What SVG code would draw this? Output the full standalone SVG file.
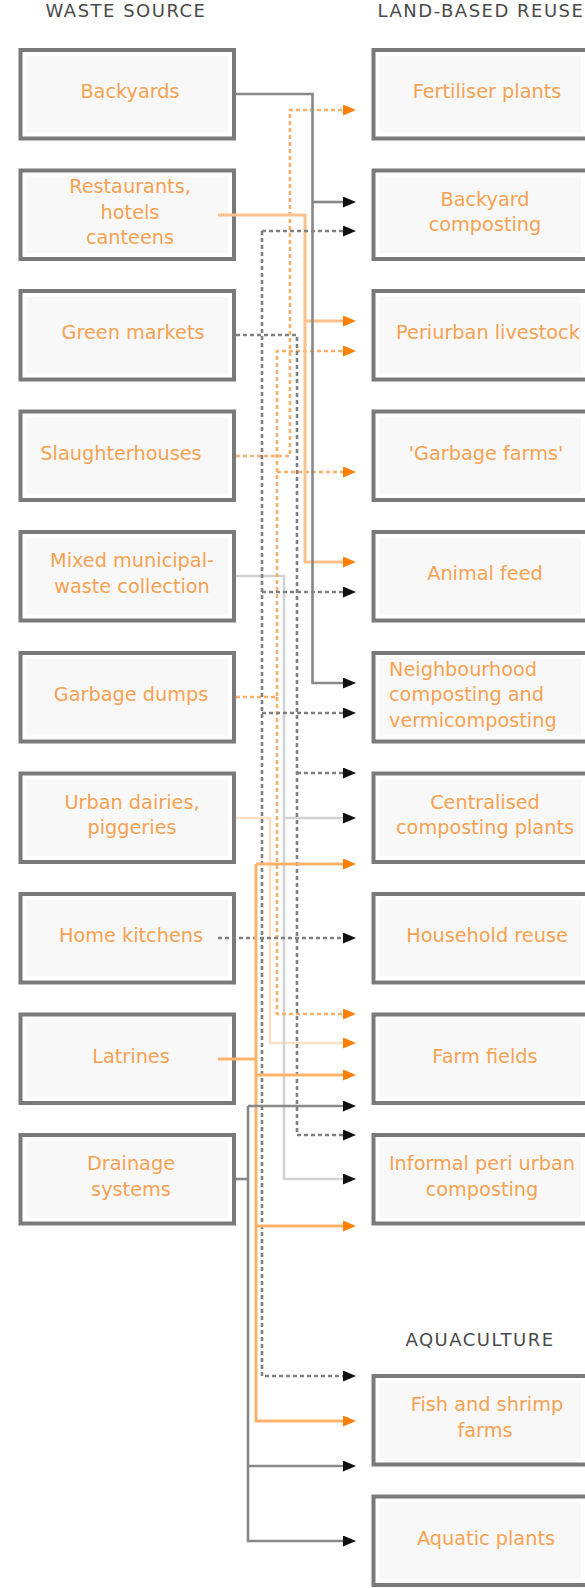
<svg xmlns="http://www.w3.org/2000/svg" width="585" height="1588" viewBox="0 0 585 1588">
<style>
.b{fill:#fff;stroke:#7a7a7a;stroke-width:4}
.f{fill:#f8f8f8}
.l{font-family:"DejaVu Sans",sans-serif;font-size:19.3px;fill:#f6a252;text-anchor:middle}
.la{font-family:"DejaVu Sans",sans-serif;font-size:19.3px;fill:#f6a252;text-anchor:start}
.h{font-family:"DejaVu Sans",sans-serif;font-size:18px;fill:#4a4a4a;letter-spacing:1.5px;text-anchor:middle}
.c{fill:none}
.gk{stroke:#888;stroke-width:2.6;marker-end:url(#ak)}
.gl{stroke:#d2d2d2;stroke-width:2.6;marker-end:url(#ak)}
.gd{stroke:#808080;stroke-width:2.6;stroke-dasharray:4 3;marker-end:url(#ak)}
.or{stroke:#fcc08a;stroke-width:3;marker-end:url(#ao)}
.ol{stroke:#fbb36c;stroke-width:3;marker-end:url(#ao)}
.ou{stroke:#fde1c5;stroke-width:2.6;marker-end:url(#ao)}
.od{stroke:#fbb06a;stroke-width:2.6;stroke-dasharray:4 3;marker-end:url(#ao)}
.nm{marker-end:none}
</style>
<defs>
<marker id="ak" markerUnits="userSpaceOnUse" markerWidth="13" markerHeight="11" refX="0" refY="5.5" orient="auto"><path d="M0,0 L13,5.5 L0,11 z" fill="#111"/></marker>
<marker id="ao" markerUnits="userSpaceOnUse" markerWidth="13" markerHeight="11" refX="0" refY="5.5" orient="auto"><path d="M0,0 L13,5.5 L0,11 z" fill="#ff8000"/></marker>
</defs>
<rect width="585" height="1588" fill="#fff"/>
<g id="headers">
<text class="h" x="126" y="17">WASTE SOURCE</text>
<text class="h" x="481" y="17">LAND-BASED REUSE</text>
<text class="h" x="480" y="1346">AQUACULTURE</text>
</g>
<g id="sources">
<g id="backyards" transform="translate(0,50)"><rect class="b" x="20.5" y="0" width="213.5" height="88.5"/><rect class="f" x="26.5" y="6" width="201.5" height="76.5"/><text class="l" x="130" y="48">Backyards</text></g>
<g id="restaurants" transform="translate(0,170.5)"><rect class="b" x="20.5" y="0" width="213.5" height="88.5"/><rect class="f" x="26.5" y="6" width="201.5" height="76.5"/><text class="l" x="130" y="22.5">Restaurants,</text><text class="l" x="130" y="48">hotels</text><text class="l" x="130" y="73.5">canteens</text></g>
<g id="green-markets" transform="translate(0,291)"><rect class="b" x="20.5" y="0" width="213.5" height="88.5"/><rect class="f" x="26.5" y="6" width="201.5" height="76.5"/><text class="l" x="133" y="48">Green markets</text></g>
<g id="slaughterhouses" transform="translate(0,411.5)"><rect class="b" x="20.5" y="0" width="213.5" height="88.5"/><rect class="f" x="26.5" y="6" width="201.5" height="76.5"/><text class="l" x="121" y="48">Slaughterhouses</text></g>
<g id="mixed-municipal" transform="translate(0,532)"><rect class="b" x="20.5" y="0" width="213.5" height="88.5"/><rect class="f" x="26.5" y="6" width="201.5" height="76.5"/><text class="l" x="132" y="35.2">Mixed municipal-</text><text class="l" x="132" y="60.7">waste collection</text></g>
<g id="garbage-dumps" transform="translate(0,653)"><rect class="b" x="20.5" y="0" width="213.5" height="88.5"/><rect class="f" x="26.5" y="6" width="201.5" height="76.5"/><text class="l" x="131" y="48">Garbage dumps</text></g>
<g id="urban-dairies" transform="translate(0,773.5)"><rect class="b" x="20.5" y="0" width="213.5" height="88.5"/><rect class="f" x="26.5" y="6" width="201.5" height="76.5"/><text class="l" x="132" y="35.2">Urban dairies,</text><text class="l" x="132" y="60.7">piggeries</text></g>
<g id="home-kitchens" transform="translate(0,894)"><rect class="b" x="20.5" y="0" width="213.5" height="88.5"/><rect class="f" x="26.5" y="6" width="201.5" height="76.5"/><text class="l" x="131" y="48">Home kitchens</text></g>
<g id="latrines" transform="translate(0,1014.5)"><rect class="b" x="20.5" y="0" width="213.5" height="88.5"/><rect class="f" x="26.5" y="6" width="201.5" height="76.5"/><text class="l" x="131" y="48">Latrines</text></g>
<g id="drainage" transform="translate(0,1135)"><rect class="b" x="20.5" y="0" width="213.5" height="88.5"/><rect class="f" x="26.5" y="6" width="201.5" height="76.5"/><text class="l" x="131" y="35.2">Drainage</text><text class="l" x="131" y="60.7">systems</text></g>
</g>
<g id="targets">
<g id="fertiliser-plants" transform="translate(0,50)"><rect class="b" x="373.5" y="0" width="213.5" height="88.5"/><rect class="f" x="379.5" y="6" width="201.5" height="76.5"/><text class="l" x="487" y="48">Fertiliser plants</text></g>
<g id="backyard-composting" transform="translate(0,170.5)"><rect class="b" x="373.5" y="0" width="213.5" height="88.5"/><rect class="f" x="379.5" y="6" width="201.5" height="76.5"/><text class="l" x="485" y="35.2">Backyard</text><text class="l" x="485" y="60.7">composting</text></g>
<g id="periurban-livestock" transform="translate(0,291)"><rect class="b" x="373.5" y="0" width="213.5" height="88.5"/><rect class="f" x="379.5" y="6" width="201.5" height="76.5"/><text class="l" x="488" y="48">Periurban livestock</text></g>
<g id="garbage-farms" transform="translate(0,411.5)"><rect class="b" x="373.5" y="0" width="213.5" height="88.5"/><rect class="f" x="379.5" y="6" width="201.5" height="76.5"/><text class="l" x="486" y="48">'Garbage farms'</text></g>
<g id="animal-feed" transform="translate(0,532)"><rect class="b" x="373.5" y="0" width="213.5" height="88.5"/><rect class="f" x="379.5" y="6" width="201.5" height="76.5"/><text class="l" x="485" y="48">Animal feed</text></g>
<g id="neighbourhood-composting" transform="translate(0,653)"><rect class="b" x="373.5" y="0" width="213.5" height="88.5"/><rect class="f" x="379.5" y="6" width="201.5" height="76.5"/><text class="la" x="389" y="22.5">Neighbourhood</text><text class="la" x="389" y="48">composting and</text><text class="la" x="389" y="73.5">vermicomposting</text></g>
<g id="centralised-composting" transform="translate(0,773.5)"><rect class="b" x="373.5" y="0" width="213.5" height="88.5"/><rect class="f" x="379.5" y="6" width="201.5" height="76.5"/><text class="l" x="485" y="35.2">Centralised</text><text class="l" x="485" y="60.7">composting plants</text></g>
<g id="household-reuse" transform="translate(0,894)"><rect class="b" x="373.5" y="0" width="213.5" height="88.5"/><rect class="f" x="379.5" y="6" width="201.5" height="76.5"/><text class="l" x="487" y="48">Household reuse</text></g>
<g id="farm-fields" transform="translate(0,1014.5)"><rect class="b" x="373.5" y="0" width="213.5" height="88.5"/><rect class="f" x="379.5" y="6" width="201.5" height="76.5"/><text class="l" x="485" y="48">Farm fields</text></g>
<g id="informal-composting" transform="translate(0,1135)"><rect class="b" x="373.5" y="0" width="213.5" height="88.5"/><rect class="f" x="379.5" y="6" width="201.5" height="76.5"/><text class="l" x="482" y="35.2">Informal peri urban</text><text class="l" x="482" y="60.7">composting</text></g>
<g id="fish-shrimp-farms" transform="translate(0,1376)"><rect class="b" x="373.5" y="0" width="213.5" height="88.5"/><rect class="f" x="379.5" y="6" width="201.5" height="76.5"/><text class="l" x="487" y="35.2">Fish and shrimp</text><text class="l" x="485" y="60.7">farms</text></g>
<g id="aquatic-plants" transform="translate(0,1496.5)"><rect class="b" x="373.5" y="0" width="213.5" height="88.5"/><rect class="f" x="379.5" y="6" width="201.5" height="76.5"/><text class="l" x="486" y="48">Aquatic plants</text></g>
</g>
<g id="connectors" class="c">
<path class="ou" d="M236 818 H270 V1043 H343"/>
<path class="gl" d="M236 576 H284 V1179 H343"/>
<path class="gl" d="M284 818 H343"/>
<path class="od" d="M236 456 H290 V110 H343"/>
<path class="od" d="M236 697 H277 V351 H343"/>
<path class="od" d="M277 697 V1014 H343"/>
<path class="od" d="M277 472 H343"/>
<path class="or" d="M218 215 H305 V562 H343"/>
<path class="or" d="M305 321 H343"/>
<path class="gd" d="M262 231 V1376 H343"/>
<path class="gd" d="M262 231 H343"/>
<path class="gd" d="M262 592 H343"/>
<path class="gd" d="M262 713 H343"/>
<path class="gd" d="M218 938 H343"/>
<path class="gd" d="M236 335 H297 V1135 H343"/>
<path class="gd" d="M297 773 H343"/>
<path class="ol nm" d="M218 1059 H256"/>
<path class="ol" d="M256 864 V1421 H343"/>
<path class="ol" d="M256 864 H343"/>
<path class="ol" d="M256 1075 H343"/>
<path class="ol" d="M256 1226 H343"/>
<path class="gk" d="M236 94 H312.5 V683 H343"/>
<path class="gk" d="M312.5 202 H343"/>
<path class="gk nm" d="M236 1179 H248"/>
<path class="gk" d="M248 1106 V1541 H343"/>
<path class="gk" d="M248 1106 H343"/>
<path class="gk" d="M248 1466 H343"/>
</g>
</svg>
